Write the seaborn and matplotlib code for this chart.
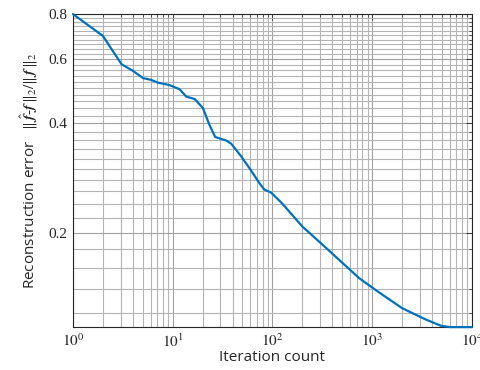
"""
Reconstruction error vs iteration count (log-log)
"""

import matplotlib
matplotlib.use('Agg')
import matplotlib.pyplot as plt
import seaborn as sns
import numpy as np
import pandas as pd
from matplotlib.ticker import FixedLocator, NullFormatter, LogLocator

# Data
iterations = [1, 2, 3.07, 4.0, 5.05, 6.1, 7.1, 9.3, 11.7, 13.7, 16.6, 20.1, 23.4,
              26.7, 34.3, 38.5, 48.5, 61, 74, 83, 97, 125, 200, 343, 741,
              1175, 2000, 3430, 4870, 6000, 10000]
recon_error = [0.80, 0.696, 0.582, 0.558, 0.533, 0.527, 0.518, 0.510, 0.497, 0.474,
               0.467, 0.441, 0.396, 0.367, 0.359, 0.352, 0.325, 0.297, 0.274, 0.263,
               0.258, 0.241, 0.208, 0.182, 0.150, 0.137, 0.124, 0.1155, 0.111,
               0.110, 0.110]
y_ticks = [0.2, 0.4, 0.6, 0.8]
y_tick_labels = ['0.2', '0.4', '0.6', '0.8']
x_ticks = [1, 10, 100, 1000, 10000]
x_tick_labels = [r'$10^{0}$', r'$10^{1}$', r'$10^{2}$', r'$10^{3}$', r'$10^{4}$']

df = pd.DataFrame({'iteration': iterations, 'error': recon_error})

sns.set_style("white")
plt.rcParams['mathtext.fontset'] = 'stix'
plt.rcParams['font.family'] = ['Open Sans', 'DejaVu Sans']

fig = plt.figure(figsize=(4.8, 3.7), dpi=100)
ax = fig.add_axes([0.152, 0.116, 0.831, 0.846])

sns.lineplot(data=df, x='iteration', y='error', ax=ax, color='#0072bd',
             linewidth=1.6, clip_on=False, zorder=5)

ax.set_xscale('log')
ax.set_yscale('log')
ax.set_xlim(1, 10000)
ax.set_ylim(0.11, 0.8)

# Ticks
ax.xaxis.set_major_locator(FixedLocator(x_ticks))
ax.xaxis.set_minor_locator(LogLocator(base=10, subs=np.arange(2, 10)))
ax.xaxis.set_minor_formatter(NullFormatter())
ax.set_xticklabels(x_tick_labels, fontsize=11, family='Liberation Serif')

ax.yaxis.set_major_locator(FixedLocator(y_ticks))
ax.yaxis.set_minor_locator(FixedLocator(np.round(np.arange(0.12, 0.80, 0.02), 2)))
ax.yaxis.set_minor_formatter(NullFormatter())
ax.set_yticklabels(y_tick_labels, fontsize=11, family='Liberation Serif')

ax.tick_params(which='both', direction='in', top=True, right=True, color='#262626')
ax.tick_params(which='major', length=4, width=0.6, pad=4)
ax.tick_params(which='minor', length=2, width=0.5)

# Grid
ax.grid(True, which='major', color='#a0a0a0', linewidth=0.8)
ax.grid(True, which='minor', color='#b4b4b4', linewidth=0.8)
ax.set_axisbelow(True)

for spine in ax.spines.values():
    spine.set_color('#262626')
    spine.set_linewidth(0.8)

ax.set_xlabel('Iteration count', fontsize=11, labelpad=0)
ax.set_ylabel(r'Reconstruction error   $\|\,\hat{\boldsymbol{f}}$-$\boldsymbol{f}\,\|_2/\|\,\boldsymbol{f}\,\|_2$',
              fontsize=11, labelpad=6)

plt.savefig('out.png', dpi=100)
plt.close()
